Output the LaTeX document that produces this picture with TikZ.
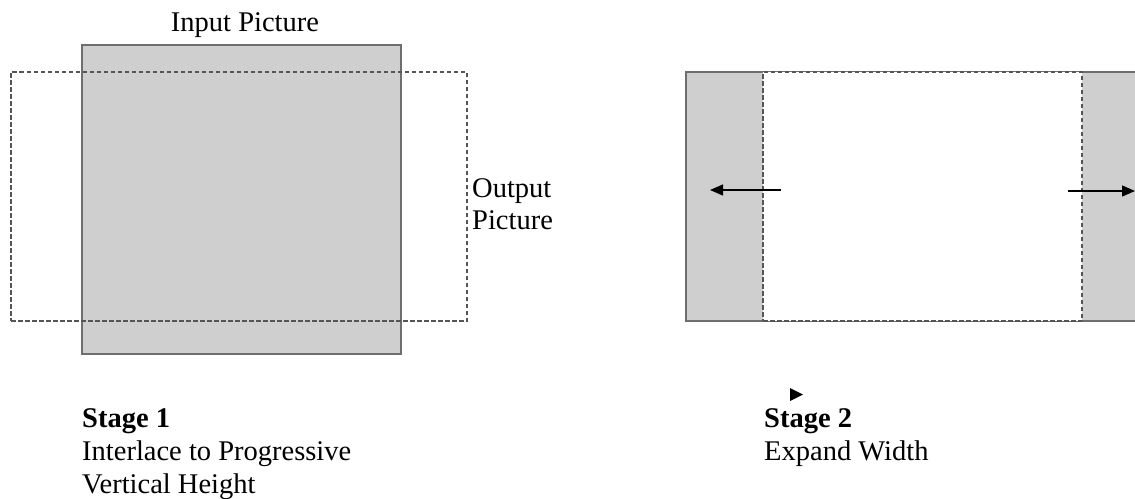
\documentclass[tikz,border=0pt]{standalone}
\usepackage{fontspec}
\setmainfont{Liberation Serif}
\usetikzlibrary{arrows.meta}
\definecolor{boxfill}{HTML}{CFCFCF}
\definecolor{boxline}{HTML}{6E6E6E}
\definecolor{dashline}{HTML}{555555}
\tikzset{
  graybox/.style={draw=boxline, line width=1.5pt, fill=boxfill, inner sep=0pt},
  dashbox/.style={draw=dashline, line width=1.3pt, dash pattern=on 4.5pt off 2.5pt, inner sep=0pt},
  lbl/.style={anchor=base west, inner sep=0pt, font=\fontsize{28.5}{33}\selectfont},
  arr/.style={line width=1.3pt, -{Triangle[length=13pt,width=11pt]}},
}
\begin{document}
\begin{tikzpicture}[x=1pt,y=-1pt]
\useasboundingbox (0,0) rectangle (1135,498);
\clip (0,0) rectangle (1135,498);
% Stage 1
\node[graybox, minimum width=319pt, minimum height=309pt] (inp) at (241.5,199.5) {};
\node[dashbox, minimum width=456pt, minimum height=249pt] (out) at (239,196.5) {};
\node[lbl, anchor=base] (tin) at (245,31) {Input Picture};
\node[lbl] (tout1) at (472,197) {Output};
\node[lbl] (tout2) at (472,229) {Picture};
\node[lbl] (s1) at (82,427) {\bfseries Stage 1};
\node[lbl] (s1a) at (82,460) {Interlace to Progressive};
\node[lbl] (s1b) at (82,493) {Vertical Height};
% Stage 2
\node[graybox, minimum width=470pt, minimum height=249pt] (wide) at (921,196.5) {};
\node[dashbox, fill=white, minimum width=319pt, minimum height=249pt] (mid) at (922.5,196.5) {};
\coordinate (la) at (781,190);
\coordinate (lb) at (710,190);
\coordinate (ra) at (1068,191);
\coordinate (rb) at (1135,191);
\draw[arr] (la) -- (lb);
\draw[arr] (ra) -- (rb);
\fill (790,388) -- (803,394.5) -- (790,401) -- cycle;
\node[lbl] (s2) at (764,427) {\bfseries Stage 2};
\node[lbl] (s2a) at (764,460) {Expand Width};
\end{tikzpicture}
\end{document}
